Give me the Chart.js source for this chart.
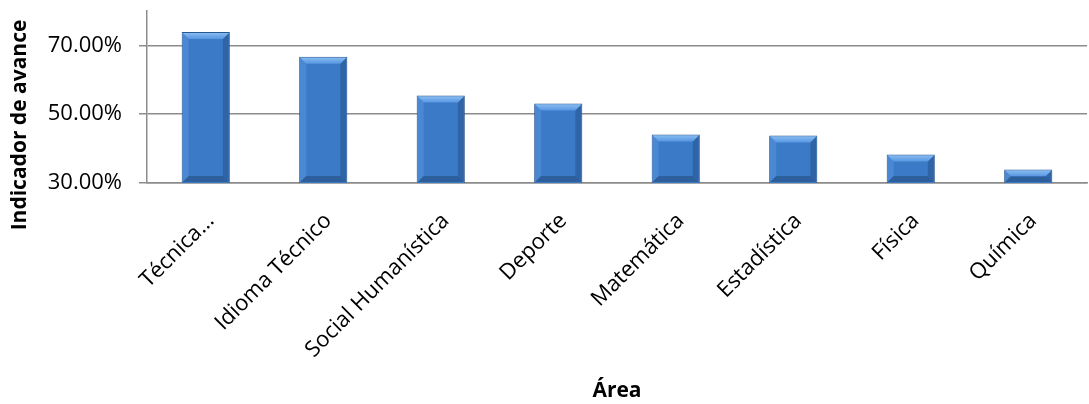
<!DOCTYPE html>
<html>
<head>
<meta charset="utf-8">
<script src="https://cdn.jsdelivr.net/npm/chart.js@4"></script>
<style>
    html, body { margin: 0; padding: 0; background: #fff; }
    .wrap { width: 1089px; height: 404px; position: relative; }
</style>
</head>
<body>
<div class="wrap"><canvas id="chart"></canvas></div>
<script>
// Chart data
const areas = ['Técnica...', 'Idioma Técnico', 'Social Humanística', 'Deporte', 'Matemática', 'Estadística', 'Física', 'Química'];
const avance = [0.739, 0.667, 0.554, 0.531, 0.441, 0.438, 0.383, 0.339];
const yTicks = [0.3, 0.5, 0.7];
const yTitle = 'Indicador de avance';

const FONT = '"Open Sans", Lato, sans-serif';

// Bevel edges drawn over each bar (light top/left, dark right/bottom)
const bevel = {
    id: 'bevel',
    afterDatasetsDraw(chart) {
        const c = chart.ctx;
        const area = chart.chartArea;
        const poly = (pts, fill) => {
            c.fillStyle = fill;
            c.beginPath();
            c.moveTo(pts[0][0], pts[0][1]);
            pts.slice(1).forEach(p => c.lineTo(p[0], p[1]));
            c.closePath();
            c.fill();
        };
        chart.getDatasetMeta(0).data.forEach(bar => {
            const l = bar.x - bar.width / 2 + 1, r = bar.x + bar.width / 2 - 1;
            const t = bar.y + 1, b = Math.min(bar.base, area.bottom) - 1;
            const d = Math.min(6, (b - t) / 2);
            c.save();
            poly([[l, t], [l + d, t + d], [l + d, b - d], [l, b]], '#4a88d4');
            poly([[r, t], [r - d, t + d], [r - d, b - d], [r, b]], '#2f64a6');
            poly([[l, b], [l + d, b - d], [r - d, b - d], [r, b]], '#2d5f9c');
            const g = c.createLinearGradient(0, t, 0, t + d);
            g.addColorStop(0, '#86bbf2');
            g.addColorStop(1, '#5796e0');
            poly([[l, t], [r, t], [r - d, t + d], [l + d, t + d]], g);
            c.restore();
        });
    }
};

// Y axis title, placed like the original (a bit below the plot centre)
const sideTitle = {
    id: 'sideTitle',
    afterDraw(chart) {
        const c = chart.ctx;
        const a = chart.chartArea;
        c.save();
        c.translate(20, (a.top + a.bottom) / 2 + 28);
        c.rotate(-Math.PI / 2);
        c.font = 'bold 21px ' + FONT;
        c.fillStyle = '#000';
        c.textAlign = 'center';
        c.textBaseline = 'middle';
        c.fillText(yTitle, 0, 0);
        c.restore();
    }
};

new Chart(document.getElementById('chart'), {
    type: 'bar',
    data: {
        labels: areas,
        datasets: [{
            label: yTitle,
            data: avance,
            backgroundColor: '#3b7ac6',
            borderColor: '#2a5690',
            borderWidth: 1,
            barPercentage: 0.82,
            categoryPercentage: 0.5
        }]
    },
    plugins: [bevel, sideTitle],
    options: {
        responsive: true,
        maintainAspectRatio: false,
        animation: false,
        layout: { padding: { top: 11, right: 2, left: 48, bottom: 0 } },
        plugins: {
            legend: { display: false },
            tooltip: { enabled: false }
        },
        scales: {
            y: {
                min: 0.3,
                max: 0.8,
                afterBuildTicks: axis => { axis.ticks = yTicks.map(v => ({ value: v })); },
                afterFit: s => { s.width = 99; s.paddingTop = 0; s.paddingBottom = 0; },
                ticks: {
                    callback: v => (v * 100).toFixed(2) + '%',
                    font: { family: FONT, size: 22 },
                    color: '#000',
                    padding: 17
                },
                grid: { color: '#8c8c8c', lineWidth: 1.5, drawTicks: true, tickLength: 8 },
                border: { color: '#8c8c8c', width: 1.5 }
            },
            x: {
                afterFit: s => { s.height = 221; s.paddingLeft = 0; s.paddingRight = 0; },
                ticks: {
                    font: { family: FONT, size: 22 },
                    color: '#000',
                    maxRotation: 45,
                    minRotation: 45,
                    autoSkip: false,
                    padding: 17,
                    labelOffset: 5
                },
                grid: { display: false },
                border: { color: '#8c8c8c', width: 1.5 },
                title: {
                    display: true,
                    text: 'Área',
                    font: { family: FONT, size: 21, weight: 'bold' },
                    color: '#000',
                    padding: { top: 10, bottom: 0 }
                }
            }
        }
    }
});
</script>
</body>
</html>
